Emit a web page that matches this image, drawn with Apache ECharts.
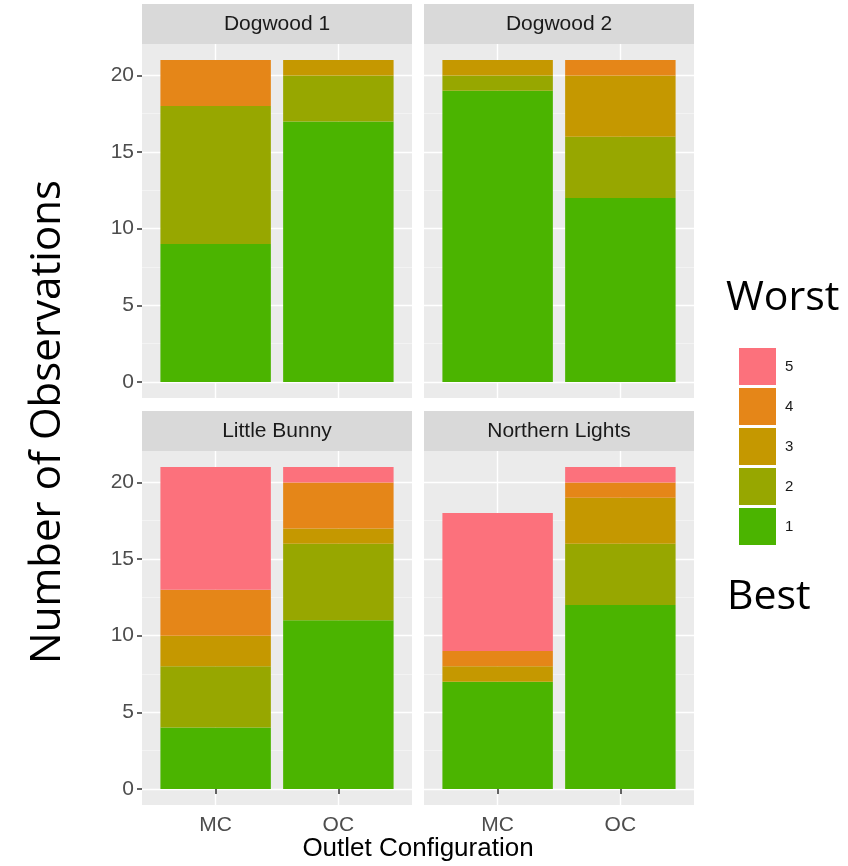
<!DOCTYPE html>
<html><head><meta charset="utf-8">
<script src="https://cdn.jsdelivr.net/npm/echarts@6/dist/echarts.min.js"></script>
<style>html,body{margin:0;padding:0;background:#fff}#c{width:848px;height:866px}</style>
</head><body><div id="c"></div>
<script>
// ---- data ----
const categories = ['MC', 'OC'];
const panelNames = ['Dogwood 1', 'Dogwood 2', 'Little Bunny', 'Northern Lights'];
const ratings = ['1', '2', '3', '4', '5'];
const yTicks = [0, 5, 10, 15, 20];
const yMinorTicks = [2.5, 7.5, 12.5, 17.5];
// counts per rating 1..5
const dogwood1MC = [9, 9, 0, 3, 0];
const dogwood1OC = [17, 3, 1, 0, 0];
const dogwood2MC = [19, 1, 1, 0, 0];
const dogwood2OC = [12, 4, 4, 1, 0];
const littleBunnyMC = [4, 4, 2, 3, 8];
const littleBunnyOC = [11, 5, 1, 3, 1];
const northernLightsMC = [7, 0, 1, 1, 9];
const northernLightsOC = [12, 4, 3, 1, 1];

const panelData = [
  [dogwood1MC, dogwood1OC],
  [dogwood2MC, dogwood2OC],
  [littleBunnyMC, littleBunnyOC],
  [northernLightsMC, northernLightsOC]
];

// ---- styling / layout ----
const colors = ['#4BB400', '#97A700', '#C59800', '#E58618', '#FC717C'];
const FONT = '"Liberation Sans", Arial, sans-serif';
const boxes = [
  {x: 142, y: 44, w: 270, h: 354},
  {x: 424, y: 44, w: 270, h: 354},
  {x: 142, y: 451, w: 270, h: 354},
  {x: 424, y: 451, w: 270, h: 354}
];
const stripH = 40;
const xMin = 0.4, xMax = 2.6, yMin = -1.05, yMax = 22.05;

const grids = [], xAxes = [], yAxes = [], series = [], graphics = [];
boxes.forEach((b, p) => {
  const isLeft = (p % 2 === 0);
  const isBottom = (p >= 2);
  grids.push({left: b.x, top: b.y, width: b.w, height: b.h, show: true,
    backgroundColor: '#ebebeb', borderWidth: 0, containLabel: false});
  xAxes.push({
    gridIndex: p, type: 'value', min: xMin, max: xMax,
    axisLine: {show: false},
    axisTick: {show: isBottom, length: 5, customValues: [1, 2], lineStyle: {color: '#333', width: 1.5}},
    axisLabel: {show: isBottom, customValues: [1, 2], margin: 10,
      formatter: v => categories[Math.round(v) - 1] || '',
      fontSize: 21, color: '#4d4d4d', fontFamily: FONT},
    splitLine: {show: true, lineStyle: {color: '#ffffff', width: 1.4}}
  });
  yAxes.push({
    gridIndex: p, type: 'value', min: yMin, max: yMax, position: 'left',
    axisLine: {show: false},
    axisTick: {show: isLeft, length: 5, customValues: yTicks, lineStyle: {color: '#333', width: 1.5}},
    axisLabel: {show: isLeft, customValues: yTicks, margin: 8, fontSize: 21, color: '#4d4d4d', fontFamily: FONT},
    splitLine: {show: true, lineStyle: {color: '#ffffff', width: 1.4}}
  });
  yAxes.push({
    gridIndex: p, type: 'value', min: yMin, max: yMax, position: 'left',
    axisLine: {show: false},
    axisTick: {show: false, customValues: yMinorTicks},
    axisLabel: {show: false, customValues: yMinorTicks},
    splitLine: {show: true, lineStyle: {color: '#f7f7f7', width: 0.7}}
  });
  const barW = 0.9 * b.w / (xMax - xMin);
  ratings.forEach((r, i) => {
    series.push({
      type: 'bar', name: r, xAxisIndex: p, yAxisIndex: 2 * p, stack: 'panel' + p,
      barWidth: barW, itemStyle: {color: colors[i], borderWidth: 0},
      encode: {x: 1, y: 0},
      // [count, category position]
      data: [[panelData[p][0][i], 1], [panelData[p][1][i], 2]]
    });
  });
  graphics.push({type: 'rect', shape: {x: b.x, y: b.y - stripH, width: b.w, height: stripH},
    style: {fill: '#d9d9d9'}, silent: true});
  graphics.push({type: 'text', x: b.x + b.w / 2, y: b.y - stripH / 2,
    style: {text: panelNames[p], fill: '#1a1a1a', font: '21px ' + FONT, textAlign: 'center', textVerticalAlign: 'middle'}});
});

graphics.push({type: 'text', x: 418, y: 849,
  style: {text: 'Outlet Configuration', fill: '#000', font: '26px ' + FONT, textAlign: 'center', textVerticalAlign: 'middle'}});
graphics.push({type: 'text', x: 48, y: 422, rotation: Math.PI / 2,
  style: {text: 'Number of Observations', fill: '#000', font: '42px "Open Sans", sans-serif', textAlign: 'center', textVerticalAlign: 'middle'}});
graphics.push({type: 'text', x: 726, y: 298,
  style: {text: 'Worst', fill: '#000', font: '41px "Open Sans", sans-serif', textAlign: 'left', textVerticalAlign: 'middle'}});
graphics.push({type: 'text', x: 727, y: 597,
  style: {text: 'Best', fill: '#000', font: '41px "Open Sans", sans-serif', textAlign: 'left', textVerticalAlign: 'middle'}});

const chart = echarts.init(document.getElementById('c'), null, {renderer: 'canvas'});
chart.setOption({
  animation: false,
  backgroundColor: '#ffffff',
  grid: grids, xAxis: xAxes, yAxis: yAxes, series: series,
  legend: {
    orient: 'vertical', left: 734, top: 343, itemWidth: 37, itemHeight: 37, itemGap: 3,
    icon: 'rect', data: ['5', '4', '3', '2', '1'],
    textStyle: {fontSize: 15, color: '#1a1a1a', fontFamily: FONT, padding: [0, 0, 0, 4]},
    itemStyle: {borderWidth: 0}
  },
  graphic: graphics
});
</script></body></html>
